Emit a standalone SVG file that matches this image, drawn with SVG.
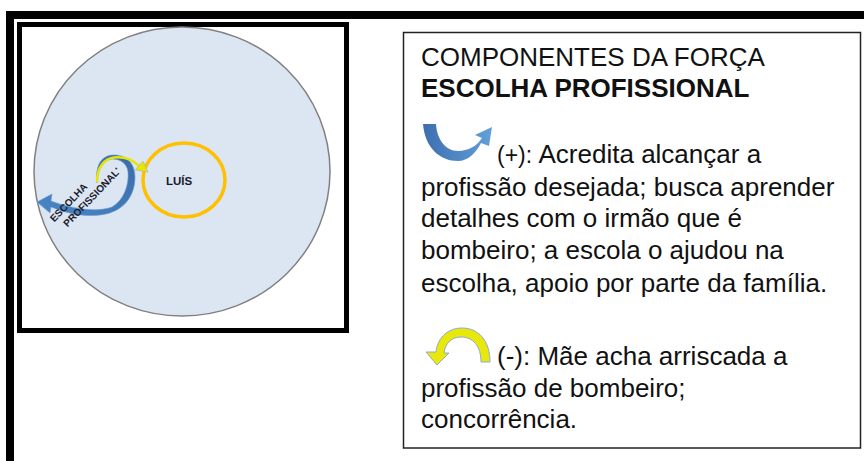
<svg xmlns="http://www.w3.org/2000/svg" width="864" height="461" viewBox="0 0 864 461">
<style>
.t{font-family:"Liberation Sans",Arial,sans-serif;font-size:26px;fill:#111}
.b{font-weight:bold}
.s{font-family:"Liberation Sans",Arial,sans-serif;font-weight:bold;font-size:10px;fill:#1a1a2a}
.n{font-size:11.5px}
</style>
<defs>
<linearGradient id="gb" x1="0" y1="0" x2="1" y2="0">
<stop offset="0" stop-color="#3d6fae"/><stop offset="1" stop-color="#62a0da"/>
</linearGradient>
<linearGradient id="gl" x1="0" y1="1" x2="1" y2="0">
<stop offset="0" stop-color="#4a86c6"/><stop offset="1" stop-color="#3a6ca8"/>
</linearGradient>
</defs>
<rect width="864" height="461" fill="#fff"/>
<path d="M10,461 V15 H864" fill="none" stroke="#000" stroke-width="8"/>
<g id="frame">
<rect x="19.5" y="24.5" width="327" height="306" fill="#fff" stroke="#000" stroke-width="5"/>
</g>
<g id="field">
<ellipse cx="182" cy="171.5" rx="148" ry="144.5" fill="#dce6f2" stroke="#808080" stroke-width="1.5"/>
</g>
<g id="luis">
<ellipse cx="184" cy="180" rx="41" ry="37" fill="none" stroke="#ffc000" stroke-width="3.5"/>
<text class="s n" x="179" y="185" text-anchor="middle">LUÍS</text>
</g>
<g id="connectors">
<path d="M37,202 L52,194 L51,201 C70,208 95,213 112,207 C124,200 129,185 128,172 C127,163 120,159 112,159 C104,160 98,168 97,183 C95,166 101,156 112,155 C126,154 135,163 135,177 C135,196 124,210 106,214 C88,218 68,214 51,207 L50,213 Z" fill="url(#gl)" stroke="#6fa0d8" stroke-width="0.6"/>
<path d="M97,182 C97,167 104,159 114,157.5 C125,156.5 133,160 139,166" fill="none" stroke="#e6e600" stroke-width="2.5"/>
<polygon points="135,170 143,161 148,172" fill="#e6e600" stroke="#9cb4d6" stroke-width="0.6"/>
</g>
<g id="force-label">
<g transform="translate(88,199) rotate(-46)">
<text class="s" x="-16" y="-8" text-anchor="middle">ESCOLHA</text>
<text class="s" x="4" y="5" text-anchor="middle">PROFISSIONAL<tspan font-size="6" dy="-3">*</tspan></text>
</g>
</g>
<g id="legend">
<rect x="403.5" y="32.5" width="457" height="415.5" fill="#fff" stroke="#222" stroke-width="1.5"/>
<text class="t" x="421" y="66">COMPONENTES DA FORÇA</text>
<text class="t b" x="421" y="97">ESCOLHA PROFISSIONAL</text>
<path d="M423,124 C425,148 440,161 458,161 C468,161 476,153 481,143 L489,146 L492,127 L475,135 L482,138 C477,146 468,151 458,151 C446,151 437,140 436,124 Z" fill="url(#gb)"/>
<text class="t" x="497" y="163"><tspan font-size="23">(+): </tspan>Acredita alcançar a</text>
<text class="t" x="421" y="196">profissão desejada; busca aprender</text>
<text class="t" x="421" y="227">detalhes com o irmão que é</text>
<text class="t" x="421" y="259">bombeiro; a escola o ajudou na</text>
<text class="t" x="421" y="292">escolha, apoio por parte da família.</text>
<path d="M490,362 C490,340 478,328 462,328 C446,328 437,340 436,352 L426,352 L437,365 L449,353 L444,353 C445,344 451,337 461,337 C473,337 481,346 481,362 Z" fill="#e8e80a" stroke="#8eaadb" stroke-width="1"/>
<text class="t" x="497" y="365">(-): Mãe acha arriscada a</text>
<text class="t" x="421" y="397">profissão de bombeiro;</text>
<text class="t" x="421" y="428">concorrência.</text>
</g>
</svg>
